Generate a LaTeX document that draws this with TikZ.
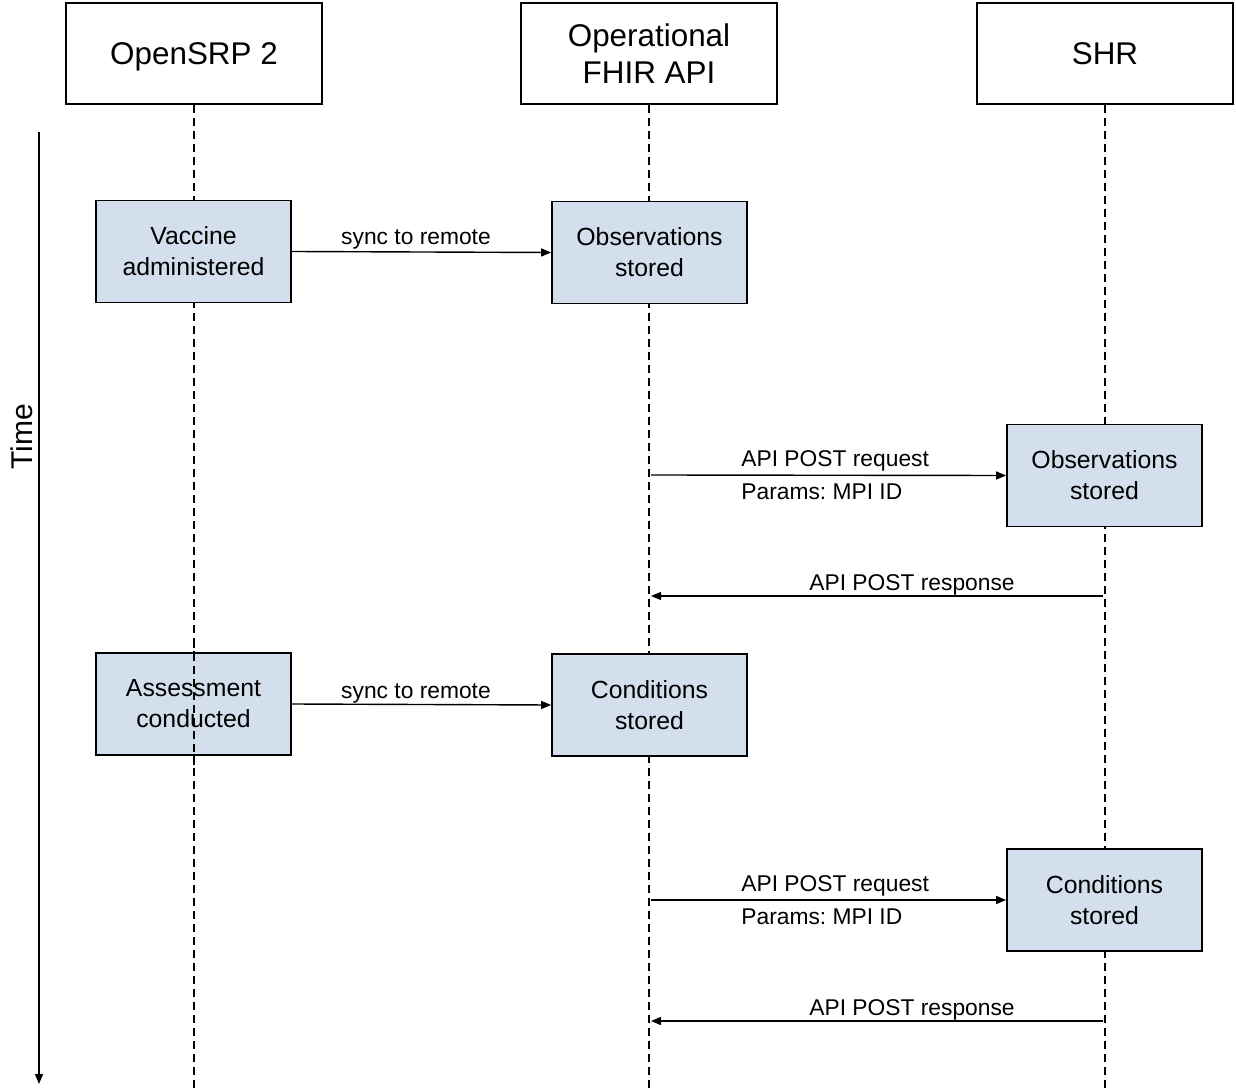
\documentclass[tikz,border=0pt]{standalone}
\usepackage{fontspec}
\setmainfont{Liberation Sans}
\usetikzlibrary{arrows.meta}
\definecolor{boxblue}{HTML}{D4DFEE}
\frenchspacing
\begin{document}
\begin{tikzpicture}[x=0.5pt,y=-0.5pt,
  actor/.style={draw=black,line width=0.9pt,fill=white,minimum width=128pt,minimum height=50.5pt,align=center,inner sep=0pt,font=\fontsize{15.7}{18.5}\selectfont},
  evbox/.style={draw=black,line width=0.9pt,fill=boxblue,minimum width=97.5pt,minimum height=51pt,align=center,inner sep=0pt,font=\fontsize{12.4}{15.5}\selectfont},
  life/.style={draw=black,line width=0.8pt,dash pattern=on 4pt off 2.5pt},
  msg/.style={draw=black,line width=0.7pt,-{Triangle[length=5pt,width=4pt]}},
  lbl/.style={font=\fontsize{11.4}{14}\selectfont,inner sep=0pt}]
\useasboundingbox (0,0) rectangle (1236,1090);
% actors
\node[actor,text depth=0pt] (osrp) at (194,53.5) {OpenSRP 2};
\node[actor] (fhir) at (649,53.5) {Operational\\FHIR API};
\node[actor] (shr) at (1105,53.5) {SHR};
\coordinate (osrpend) at (194,1090);
\coordinate (fhirend) at (649,1090);
\coordinate (shrend) at (1105,1090);
% lifelines
\draw[life] (osrp.south) -- (osrpend);
\draw[life] (fhir.south) -- (fhirend);
\draw[life] (shr.south) -- (shrend);
% time axis
\coordinate (t0) at (39,132);
\coordinate (t1) at (39,1084);
\draw[line width=0.7pt,-{Triangle[length=5pt,width=4pt]}] (t0) -- (t1);
\node[rotate=90,inner sep=0pt,font=\fontsize{15}{18}\selectfont] (time) at (22,437) {Time};
% events
\node[evbox] (vacc) at (193.5,251.5) {Vaccine\\administered};
\node[evbox] (obs1) at (649.5,252.5) {Observations\\stored};
\node[evbox] (obs2) at (1104.5,475.5) {Observations\\stored};
\node[evbox] (assess) at (193.5,704) {Assessment\\conducted};
\node[evbox] (cond1) at (649.5,705) {Conditions\\stored};
\node[evbox] (cond2) at (1104.5,900) {Conditions\\stored};
% lifeline over the assessment box
\draw[life] (194,640) -- (194,770);
% coordinates on lifelines
\coordinate (f1) at (651,475);
\coordinate (s1) at (1103,596);
\coordinate (f2) at (651,596);
\coordinate (f3) at (651,900);
\coordinate (s2) at (1103,1021);
\coordinate (f4) at (651,1021);
% messages
\draw[msg] (vacc.east) -- (obs1.west);
\node[lbl] (l1) at (416,240) {sync to remote};
\draw[msg] (f1) -- (obs2.west);
\node[lbl,anchor=west] (l2) at (741,461) {API POST request};
\node[lbl,anchor=west] (l3) at (741,492) {Params: MPI ID};
\draw[msg] (s1) -- (f2);
\node[lbl] (l4) at (912,585) {API POST response};
\draw[msg] (assess.east) -- (cond1.west);
\node[lbl] (l5) at (416,693) {sync to remote};
\draw[msg] (f3) -- (cond2.west);
\node[lbl,anchor=west] (l6) at (741,886) {API POST request};
\node[lbl,anchor=west] (l7) at (741,917) {Params: MPI ID};
\draw[msg] (s2) -- (f4);
\node[lbl] (l8) at (912,1010) {API POST response};
\end{tikzpicture}
\end{document}
